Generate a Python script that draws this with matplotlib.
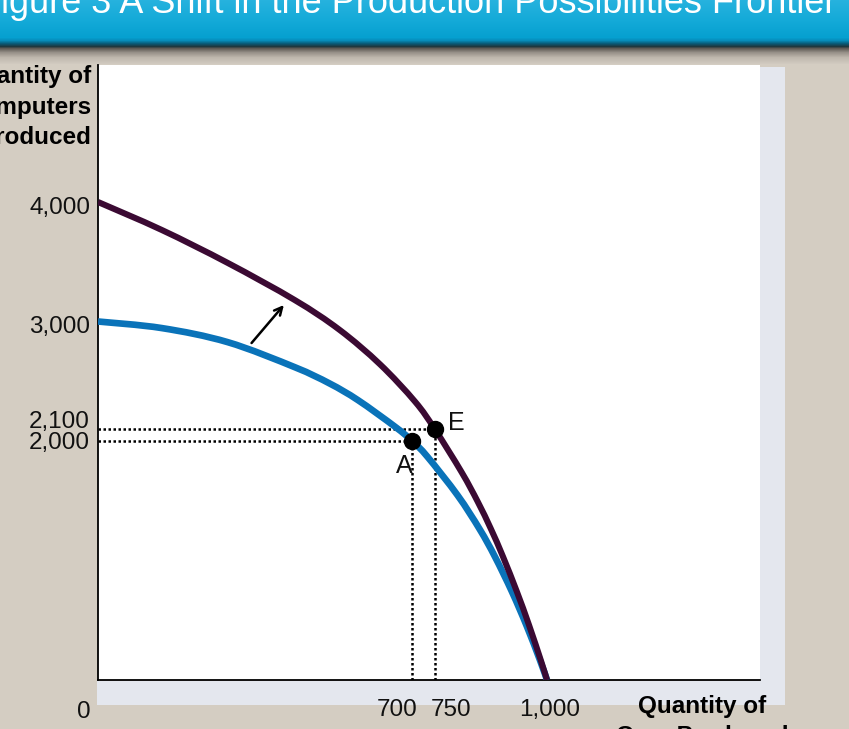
import matplotlib
matplotlib.use('Agg')
import matplotlib.pyplot as plt
import numpy as np
from matplotlib.patches import Rectangle, PathPatch
from matplotlib.path import Path
from matplotlib.transforms import offset_copy

plt.rcParams['font.family'] = ['Liberation Sans', 'DejaVu Sans']

# ---------------- data ----------------
title = "Figure 3 A Shift in the Production Possibilities Frontier"
ylabel = "Quantity of\nComputers\nProduced"
xlabel = "Quantity of\nCars Produced"

# original PPF (blue)
ppf_old_x = [0, 142, 289, 438, 516, 579, 661, 700, 734, 801, 850, 884, 922, 955, 984, 1000]
ppf_old_y = [3000, 2945, 2827, 2618, 2481, 2342, 2121, 2000, 1867, 1545, 1262, 1032, 738, 450, 169, 0]
# shifted PPF (purple)
ppf_new_x = [0, 142, 289, 438, 538, 628, 706, 750, 810, 846, 875, 902, 933, 960, 987, 1000]
ppf_new_y = [4000, 3766, 3490, 3180, 2930, 2642, 2330, 2100, 1738, 1490, 1265, 1032, 738, 459, 156, 0]

point_names = ["A", "E"]
point_x = [700, 750]
point_y = [2000, 2100]

xtick_values = [700, 750, 1000]
xtick_labels = ["700", "750", "1,000"]
ytick_values = [4000, 3000, 2100, 2000]
ytick_labels = ["4,000", "3,000", "2,100", "2,000"]
origin_label = "0"

shift_arrow_start = [342, 2820]
shift_arrow_end = [414, 3138]

# ---------------- layout ----------------
W, H, DPI = 849, 729, 100
fig = plt.figure(figsize=(W / DPI, H / DPI), dpi=DPI)
BG = '#d4cdc2'
fig.patch.set_facecolor(BG)


def fx(px):
    return px / W


def fy(py):
    return 1 - py / H


# banner gradient
keys_y = [0, 20, 37, 40, 43, 46, 48, 52, 57, 64]
keys_c = [(38, 178, 222), (20, 170, 216), (6, 160, 208), (6, 140, 186), (8, 92, 122),
          (30, 55, 62), (95, 90, 85), (150, 144, 136), (190, 183, 173), (212, 205, 194)]
rows = np.arange(65)
grad = np.zeros((65, 1, 3))
for ch in range(3):
    grad[:, 0, ch] = np.interp(rows, keys_y, [c[ch] for c in keys_c]) / 255.0
bax = fig.add_axes([0, fy(65), 1, 65 / H])
bax.imshow(grad, aspect='auto', extent=[0, 1, 0, 1])
bax.set_axis_off()

# shadow stripes around the panel
fig.patches.append(Rectangle((fx(760), fy(705)), fx(785) - fx(760), fy(67) - fy(705),
                             transform=fig.transFigure, facecolor='#e4e7ee', edgecolor='none', zorder=-1))
fig.patches.append(Rectangle((fx(97), fy(705)), fx(785) - fx(97), fy(681) - fy(705),
                             transform=fig.transFigure, facecolor='#e4e7ee', edgecolor='none', zorder=-1))

# main axes: x 98..760 px, y 65..680 px
ax = fig.add_axes([fx(98), fy(680), fx(760) - fx(98), fy(65) - fy(680)])
ax.set_facecolor('white')
ax.set_xlim(0, (760 - 98) / 0.449)
ax.set_ylim(0, (680 - 65) / 0.1195)
for s in ['top', 'right']:
    ax.spines[s].set_visible(False)
for s in ['left', 'bottom']:
    ax.spines[s].set_color('black')
    ax.spines[s].set_linewidth(1.3)
ax.set_xticks([])
ax.set_yticks([])


def smooth_path(xs, ys):
    """Catmull-Rom spline through the read points, drawn as cubic Bezier segments."""
    p = np.column_stack([xs, ys]).astype(float)
    ext = np.vstack([p[0], p, p[-1]])
    verts = [p[0]]
    codes = [Path.MOVETO]
    for i in range(1, len(ext) - 2):
        p0, p1, p2, p3 = ext[i - 1], ext[i], ext[i + 1], ext[i + 2]
        verts += [p1 + (p2 - p0) / 6.0, p2 - (p3 - p1) / 6.0, p2]
        codes += [Path.CURVE4] * 3
    return Path(verts, codes)


BLUE = '#0a73b9'
PURPLE = '#3b0a33'
ax.add_patch(PathPatch(smooth_path(ppf_old_x, ppf_old_y), fill=False, edgecolor=BLUE,
                       lw=4.8, capstyle='butt', zorder=3))
ax.add_patch(PathPatch(smooth_path(ppf_new_x, ppf_new_y), fill=False, edgecolor=PURPLE,
                       lw=4.4, capstyle='butt', zorder=4))

dot_style = dict(color='black', lw=1.8, linestyle=(0, (1, 1)), zorder=2)
for px_, py_ in zip(point_x, point_y):
    ax.plot([0, px_], [py_, py_], **dot_style)
    ax.plot([px_, px_], [0, py_], **dot_style)
ax.plot(point_x, point_y, 'o', color='black', markersize=11.5, zorder=6)

label_offsets = {"A": (-8, -25), "E": (22, 6)}
for name, px_, py_ in zip(point_names, point_x, point_y):
    dx, dy = label_offsets[name]
    tr = offset_copy(ax.transData, fig=fig, x=dx, y=dy, units='dots')
    ax.text(px_, py_, name, transform=tr, ha='center', va='center', fontsize=18, color='#111111', zorder=7)

ax.annotate('', xy=shift_arrow_end, xytext=shift_arrow_start,
            arrowprops=dict(arrowstyle='->', lw=1.8, color='black', mutation_scale=14,
                            shrinkA=0, shrinkB=0), zorder=5)

# tick labels
FS = 17.5
xoff = {"700": -15, "750": 16, "1,000": 3}
for v, lab in zip(xtick_values, xtick_labels):
    tr = offset_copy(ax.get_xaxis_transform(), fig=fig, x=xoff[lab], y=-36, units='dots')
    ax.text(v, 0, lab, transform=tr, ha='center', va='baseline', fontsize=FS, color='#111111', clip_on=False)
yoff = {"4,000": -12, "3,000": -11, "2,100": 1, "2,000": -8}
for v, lab in zip(ytick_values, ytick_labels):
    tr = offset_copy(ax.get_yaxis_transform(), fig=fig, x=-8, y=yoff[lab], units='dots')
    ax.text(0, v, lab, transform=tr, ha='right', va='baseline', fontsize=FS, color='#111111', clip_on=False)
fig.text(fx(84), fy(718), origin_label, ha='center', va='baseline', fontsize=FS, color='#111111')

# axis titles
fig.text(fx(91), fy(65), ylabel, ha='right', va='top', fontsize=17.5, fontweight='bold',
         linespacing=1.42, color='black')
fig.text(fx(702), fy(695), xlabel, ha='center', va='top', fontsize=17.5, fontweight='bold',
         multialignment='center', linespacing=1.4, color='black')

# title
fig.text(fx(836), fy(13), title, ha='right', va='baseline', fontsize=26, color='white')

fig.savefig('out.png', dpi=DPI, facecolor=BG)
